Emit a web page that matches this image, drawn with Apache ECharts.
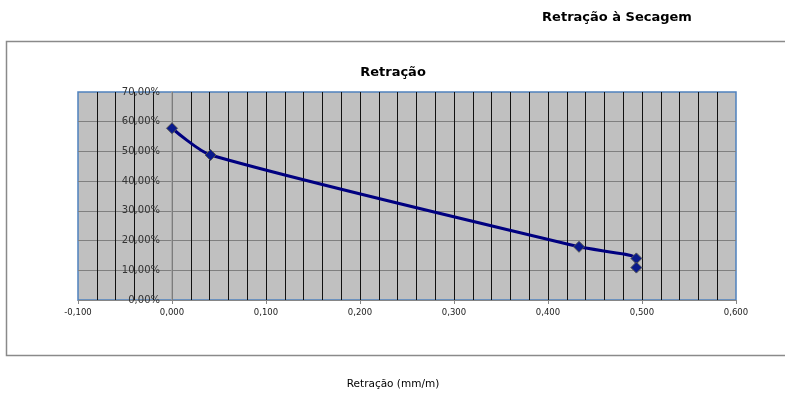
<!DOCTYPE html>
<html>
<head>
<meta charset="utf-8">
<script src="https://cdn.jsdelivr.net/npm/echarts@6/dist/echarts.min.js"></script>
<style>
html,body{margin:0;padding:0;background:#fff;}
#chart{width:785px;height:402px;}
</style>
</head>
<body>
<div id="chart"></div>
<script>
// Data
const shrinkage = [0.000, 0.041, 0.433, 0.494, 0.494];   // Retração (mm/m)
const moisture  = [57.8, 48.8, 17.9, 14.0, 10.9];        // %
const mainTitle = 'Retração à Secagem';
const plotTitle = 'Retração';
const xName = 'Retração (mm/m)';

const points = shrinkage.map((x, i) => [x, moisture[i]]);

const gridLeft = 78, gridRight = 49, xMin = -0.1, xMax = 0.6;
const plotW = 785 - gridLeft - gridRight;
const yAxisShift = (0 - xMin) / (xMax - xMin) * plotW;

const chart = echarts.init(document.getElementById('chart'), null, {renderer: 'canvas'});
chart.setOption({
  animation: false,
  backgroundColor: '#ffffff',
  textStyle: {fontFamily: 'DejaVu Sans'},
  title: [
    {text: mainTitle, left: 612, top: 6, textAlign: 'center',
     textStyle: {fontFamily: 'DejaVu Sans', fontWeight: 'bold', fontSize: 13, color: '#000'}},
    {text: plotTitle, left: 388, top: 61, textAlign: 'center',
     textStyle: {fontFamily: 'DejaVu Sans', fontWeight: 'bold', fontSize: 13, color: '#000'}},
    {text: xName, left: 388, top: 374, textAlign: 'center',
     textStyle: {fontFamily: 'DejaVu Sans', fontWeight: 'normal', fontSize: 10.5, color: '#000'}}
  ],
  graphic: [
    {type: 'rect', z: -10, silent: true,
     shape: {x: 6.5, y: 41.5, width: 900, height: 314},
     style: {fill: '#fff', stroke: '#8a8a8a', lineWidth: 1.5}}
  ],
  grid: {
    left: gridLeft, right: gridRight, top: 92, bottom: 102,
    show: true, backgroundColor: '#c0c0c0', borderColor: '#4f81bd', borderWidth: 1.5
  },
  xAxis: {
    type: 'value', min: xMin, max: xMax, interval: 0.1,
    axisLine: {show: true, onZero: false, lineStyle: {color: '#868686', width: 1}},
    axisTick: {show: true, length: 4, lineStyle: {color: '#868686'}},
    minorTick: {show: false, splitNumber: 5},
    splitLine: {show: true, showMinLine: false, showMaxLine: false, lineStyle: {color: '#111', width: 1}},
    minorSplitLine: {show: true, lineStyle: {color: '#111', width: 1}},
    axisLabel: {
      fontFamily: 'DejaVu Sans', fontSize: 8.5, color: '#222', margin: 8,
      formatter: v => v.toFixed(3).replace('.', ',')
    }
  },
  yAxis: {
    type: 'value', min: 0, max: 70, interval: 10,
    position: 'left',
    offset: -yAxisShift,
    axisLine: {show: true, onZero: false, lineStyle: {color: '#a0a0a0', width: 1.5}},
    axisTick: {show: false},
    splitLine: {show: true, showMaxLine: false, lineStyle: {color: '#808080', width: 1}},
    axisLabel: {
      fontFamily: 'DejaVu Sans', fontSize: 10, color: '#333', margin: 12,
      formatter: v => v.toFixed(2).replace('.', ',') + '%'
    }
  },
  series: [{
    type: 'line',
    data: points,
    smooth: 0.25,
    symbol: 'diamond',
    symbolSize: 11,
    z: 5,
    lineStyle: {color: '#000080', width: 3},
    itemStyle: {color: '#0a1a8c', borderColor: '#555', borderWidth: 1}
  }]
});
</script>
</body>
</html>
